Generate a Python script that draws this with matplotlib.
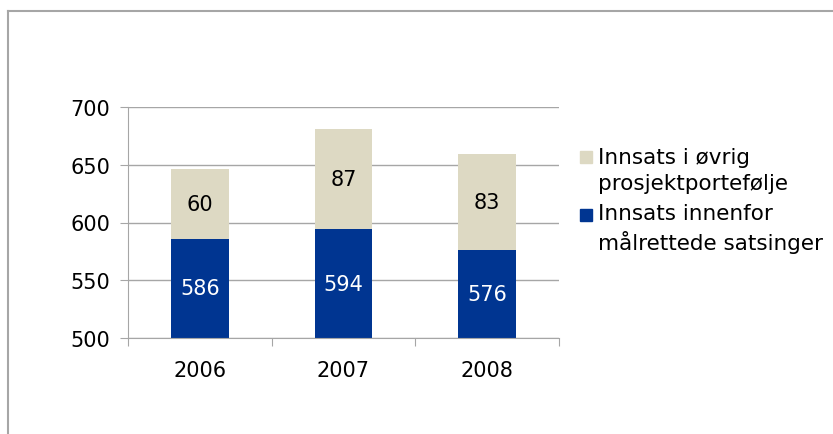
import matplotlib.pyplot as plt
from matplotlib.lines import Line2D
from matplotlib.patches import Rectangle
import numpy as np

# Data
years = ['2006', '2007', '2008']
innenfor = [586, 594, 576]
ovrig = [60, 87, 83]
label_ovrig = 'Innsats i øvrig\nprosjektportefølje'
label_innenfor = 'Innsats innenfor\nmålrettede satsinger'

navy = '#003591'
beige = '#ddd9c3'
grey = '#a6a6a6'

plt.rcParams['font.family'] = ['DejaVu Sans']

fig = plt.figure(figsize=(8.33, 4.35), dpi=100)
ax = fig.add_axes([128/833, 1 - 339/435, (559 - 128)/833, (339 - 108)/435])

x = np.arange(len(years))
ax.bar(x, innenfor, width=0.4, color=navy, zorder=2)
ax.bar(x, ovrig, width=0.4, bottom=innenfor, color=beige, zorder=2)

# value labels in the middle of each visible segment
for i in range(len(years)):
    ax.text(x[i], (500 + innenfor[i]) / 2, str(innenfor[i]), ha='center', va='center',
            color='white', fontsize=15)
    ax.text(x[i], innenfor[i] + ovrig[i] / 2, str(ovrig[i]), ha='center', va='center',
            color='black', fontsize=15)

ax.set_ylim(500, 700)
ax.set_xlim(-0.5, 2.5)
ax.set_yticks([500, 550, 600, 650, 700])
ax.yaxis.grid(True, color=grey, linewidth=1, zorder=0)
ax.set_axisbelow(True)

# category ticks on boundaries, labels in the middle
ax.set_xticks([-0.5, 0.5, 1.5, 2.5])
ax.set_xticklabels([])
ax.set_xticks(x, minor=True)
ax.set_xticklabels(years, minor=True, fontsize=15)
ax.tick_params(axis='x', which='minor', length=0, pad=16)
ax.tick_params(axis='x', which='major', length=6, color=grey)
ax.tick_params(axis='y', length=6, color=grey, labelsize=15, pad=7)

for s in ['top', 'right']:
    ax.spines[s].set_visible(False)
for s in ['left', 'bottom']:
    ax.spines[s].set_color(grey)

# legend drawn by hand: square next to the first line of each entry
legend_items = [(beige, label_ovrig, 158), (navy, label_innenfor, 216)]
for col, lab, ypix in legend_items:
    fig.patches.append(Rectangle((580/833, 1 - (ypix + 6)/435), 12/833, 12/435,
                                 transform=fig.transFigure, color=col, figure=fig))
    fig.text(598/833, 1 - (ypix + 13)/435, lab, va='center', ha='left',
             fontsize=15.5, linespacing=1.32)

# outer frame (top and left edges)
fig.add_artist(Line2D([8/833, 1], [1 - 12/435, 1 - 12/435], color=grey, linewidth=1.5))
fig.add_artist(Line2D([8/833, 8/833], [0, 1 - 12/435], color=grey, linewidth=1.5))

fig.savefig('out.png', dpi=100)
